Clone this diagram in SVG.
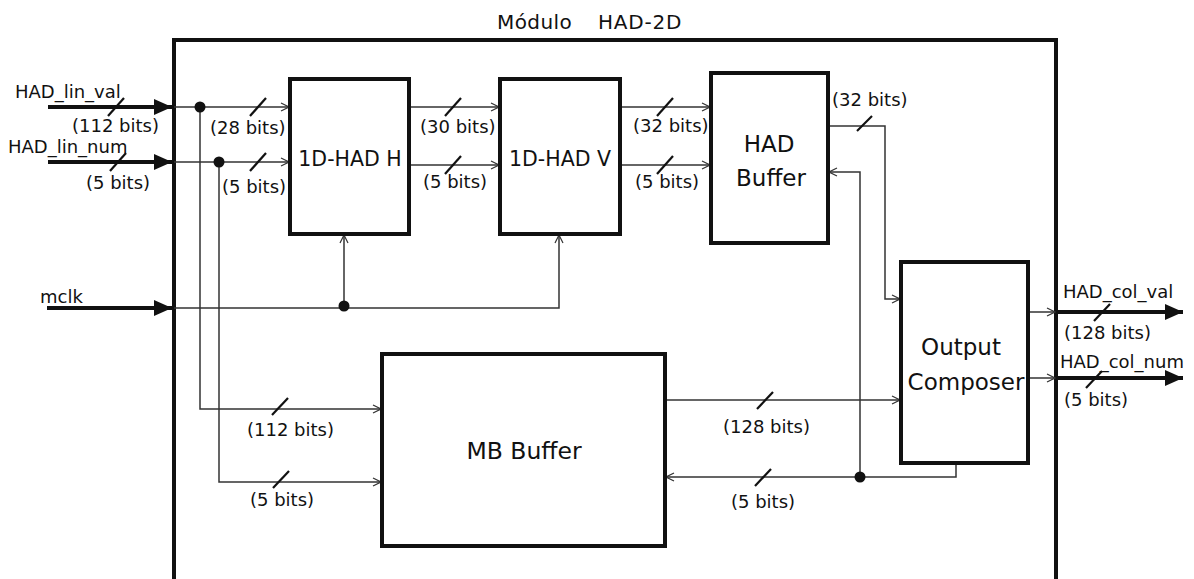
<svg xmlns="http://www.w3.org/2000/svg" width="1194" height="579" viewBox="0 0 1194 579">
<style>
text{font-family:"DejaVu Sans","Liberation Sans",sans-serif;fill:#111;}
.lbl{font-size:18px;}
.box{fill:#fff;stroke:#111;stroke-width:4;}
.node text{font-size:23px;text-anchor:middle;}
.thin{fill:none;stroke:#333;stroke-width:1.5;}
.thick{fill:none;stroke:#111;stroke-width:4;}
.sl{stroke:#111;stroke-width:2.2;}
.dot{fill:#111;}
</style>
<defs>
<marker id="oa" markerWidth="10" markerHeight="10" refX="9" refY="5" orient="auto" markerUnits="userSpaceOnUse">
<path d="M1,1 L9,5 L1,9" fill="none" stroke="#333" stroke-width="1.2"/>
</marker>
<marker id="fa" markerWidth="20" markerHeight="20" refX="18" refY="8" orient="auto" markerUnits="userSpaceOnUse">
<path d="M0,0 L18,8 L0,16 Z" fill="#111"/>
</marker>
</defs>
<rect width="1194" height="579" fill="#fff"/>
<text x="497" y="29" style="font-size:20px;letter-spacing:0.4px">Módulo</text>
<text x="598" y="29" style="font-size:20px;letter-spacing:0.8px">HAD-2D</text>
<rect id="module" x="174" y="40" width="882" height="560" fill="none" stroke="#111" stroke-width="4"/>

<g id="connectors">
<line class="thick" x1="48" y1="107" x2="172" y2="107" marker-end="url(#fa)"/>
<line class="thick" x1="48" y1="162" x2="172" y2="162" marker-end="url(#fa)"/>
<line class="thick" x1="47" y1="308" x2="172" y2="308" marker-end="url(#fa)"/>
<line class="thick" x1="1056" y1="312" x2="1183" y2="312" marker-end="url(#fa)"/>
<line class="thick" x1="1056" y1="378" x2="1183" y2="378" marker-end="url(#fa)"/>
<line class="thin" x1="174" y1="107" x2="289" y2="107" marker-end="url(#oa)"/>
<line class="thin" x1="174" y1="162" x2="289" y2="162" marker-end="url(#oa)"/>
<polyline class="thin" points="200,107 200,409 381,409" marker-end="url(#oa)"/>
<polyline class="thin" points="219,162 219,482 381,482" marker-end="url(#oa)"/>
<line class="thin" x1="409" y1="107" x2="499" y2="107" marker-end="url(#oa)"/>
<line class="thin" x1="409" y1="165" x2="499" y2="165" marker-end="url(#oa)"/>
<line class="thin" x1="620" y1="107" x2="710" y2="107" marker-end="url(#oa)"/>
<line class="thin" x1="620" y1="165" x2="710" y2="165" marker-end="url(#oa)"/>
<polyline class="thin" points="174,308 559,308 559,235" marker-end="url(#oa)"/>
<line class="thin" x1="344" y1="308" x2="344" y2="235" marker-end="url(#oa)"/>
<polyline class="thin" points="828,126 885,126 885,299 900,299" marker-end="url(#oa)"/>
<polyline class="thin" points="860,477 860,172 829,172" marker-end="url(#oa)"/>
<polyline class="thin" points="956,463 956,477 666,477" marker-end="url(#oa)"/>
<line class="thin" x1="665" y1="400" x2="900" y2="400" marker-end="url(#oa)"/>
<line class="thin" x1="1028" y1="312" x2="1055" y2="312" marker-end="url(#oa)"/>
<line class="thin" x1="1020" y1="378" x2="1055" y2="378" marker-end="url(#oa)"/>
<circle class="dot" cx="200" cy="107" r="5.5"/>
<circle class="dot" cx="219" cy="162" r="5.5"/>
<circle class="dot" cx="344" cy="306" r="5.5"/>
<circle class="dot" cx="860" cy="477" r="5.5"/>
<line class="sl" x1="108" y1="116" x2="124" y2="98"/>
<line class="sl" x1="110" y1="171" x2="126" y2="153"/>
<line class="sl" x1="250" y1="116" x2="266" y2="98"/>
<line class="sl" x1="250" y1="171" x2="266" y2="153"/>
<line class="sl" x1="445" y1="116" x2="461" y2="98"/>
<line class="sl" x1="445" y1="174" x2="461" y2="156"/>
<line class="sl" x1="657" y1="116" x2="673" y2="98"/>
<line class="sl" x1="657" y1="174" x2="673" y2="156"/>
<line class="sl" x1="857" y1="131" x2="872" y2="116"/>
<line class="sl" x1="272" y1="415" x2="288" y2="398"/>
<line class="sl" x1="273" y1="488" x2="289" y2="471"/>
<line class="sl" x1="757" y1="409" x2="773" y2="392"/>
<line class="sl" x1="755" y1="486" x2="771" y2="469"/>
<line class="sl" x1="1094" y1="321" x2="1110" y2="304"/>
<line class="sl" x1="1086" y1="388" x2="1102" y2="371"/>
<text class="lbl" x="15" y="98">HAD_lin_val</text>
<text class="lbl" x="72" y="132">(112 bits)</text>
<text class="lbl" x="8" y="153">HAD_lin_num</text>
<text class="lbl" x="86" y="189">(5 bits)</text>
<text class="lbl" x="40" y="303">mclk</text>
<text class="lbl" x="210" y="134">(28 bits)</text>
<text class="lbl" x="222" y="193">(5 bits)</text>
<text class="lbl" x="420" y="133">(30 bits)</text>
<text class="lbl" x="423" y="188">(5 bits)</text>
<text class="lbl" x="633" y="132">(32 bits)</text>
<text class="lbl" x="635" y="188">(5 bits)</text>
<text class="lbl" x="832" y="106">(32 bits)</text>
<text class="lbl" x="247" y="436">(112 bits)</text>
<text class="lbl" x="250" y="506">(5 bits)</text>
<text class="lbl" x="723" y="433">(128 bits)</text>
<text class="lbl" x="731" y="508">(5 bits)</text>
<text class="lbl" x="1063" y="298">HAD_col_val</text>
<text class="lbl" x="1064" y="339">(128 bits)</text>
<text class="lbl" x="1060" y="368">HAD_col_num</text>
<text class="lbl" x="1064" y="406">(5 bits)</text>
</g>

<g id="had_h" class="node"><rect class="box" x="290" y="79" width="119" height="155"/><text x="350" y="166" style="font-size:20.5px">1D-HAD H</text></g>
<g id="had_v" class="node"><rect class="box" x="500" y="79" width="120" height="155"/><text x="560" y="166" style="font-size:20.5px">1D-HAD V</text></g>
<g id="had_buffer" class="node"><rect class="box" x="711" y="73" width="117" height="170"/><text x="769" y="152">HAD</text><text x="771" y="186">Buffer</text></g>
<g id="output_composer" class="node"><rect class="box" x="901" y="262" width="127" height="201"/><text x="961" y="355">Output</text><text x="966" y="390">Composer</text></g>
<g id="mb_buffer" class="node"><rect class="box" x="382" y="354" width="283" height="192"/><text x="524" y="459" style="font-size:23.5px">MB Buffer</text></g>
</svg>
